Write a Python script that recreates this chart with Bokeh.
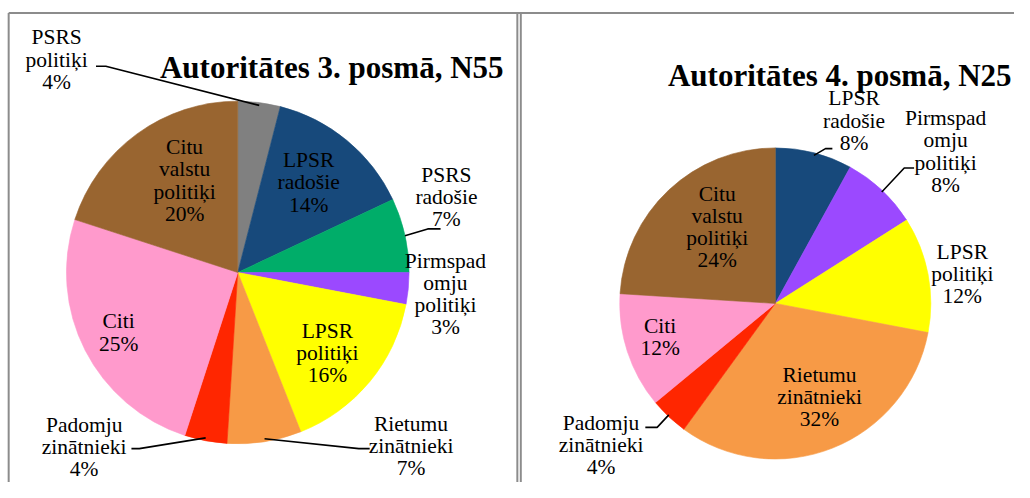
import math
from bokeh.plotting import figure
from bokeh.models import Range1d, ColumnDataSource
from bokeh.core.properties import value
from bokeh.embed import file_html
from bokeh.resources import INLINE

# ---------------- data ----------------
left_title = "Autoritātes 3. posmā, N55"
left_categories = ["PSRS\npolitiķi", "LPSR\nradošie", "PSRS\nradošie",
                   "Pirmspad\nomju\npolitiķi", "LPSR\npolitiķi",
                   "Rietumu\nzinātnieki", "Padomju\nzinātnieki", "Citi",
                   "Citu\nvalstu\npolitiķi"]
left_values = [4, 14, 7, 3, 16, 7, 4, 25, 20]

right_title = "Autoritātes 4. posmā, N25"
right_categories = ["LPSR\nradošie", "Pirmspad\nomju\npolitiķi", "LPSR\npolitiķi",
                    "Rietumu\nzinātnieki", "Padomju\nzinātnieki", "Citi",
                    "Citu\nvalstu\npolitiķi"]
right_values = [8, 8, 12, 32, 4, 12, 24]

# ---------------- styles ----------------
COLOR = {
    "PSRS\npolitiķi": "#808080",
    "LPSR\nradošie": "#17497B",
    "PSRS\nradošie": "#00AD69",
    "Pirmspad\nomju\npolitiķi": "#9B49FF",
    "LPSR\npolitiķi": "#FFFF00",
    "Rietumu\nzinātnieki": "#F79A46",
    "Padomju\nzinātnieki": "#FF2600",
    "Citi": "#FF9ACC",
    "Citu\nvalstu\npolitiķi": "#996530",
}
FONT = value("Liberation Serif")
W, H = 1014, 482          # figure size in screen pixels
REF_W, REF_H = 1030, 498  # layout grid (reference pixels)


def Y(ref_y):
    return REF_H - ref_y


p = figure(width=W, height=H, x_range=Range1d(0, REF_W), y_range=Range1d(0, REF_H),
           output_backend="svg", toolbar_location=None, x_axis_type=None,
           y_axis_type=None, min_border=0, outline_line_color=None)
p.background_fill_color = "white"

# panel borders
border = "#8C8C8C"
p.multi_line(xs=[[8.3, 1030], [8.3, 8.3], [525, 525], [528.5, 528.5]],
             ys=[[Y(13), Y(13)], [Y(13), Y(498)], [Y(13), Y(498)], [Y(13), Y(498)]],
             line_color=border, line_width=2)


def draw_pie(cx, cy, r, cats, vals, label_pos, leaders):
    total = float(sum(vals))
    starts, ends, mids = [], [], []
    cum = 0.0
    for v in vals:
        a0 = cum / total
        cum += v
        a1 = cum / total
        starts.append(math.pi / 2 - 2 * math.pi * a0)
        ends.append(math.pi / 2 - 2 * math.pi * a1)
        mids.append(math.pi * (a0 + a1))
    cols = [COLOR[c] for c in cats]
    src = ColumnDataSource(dict(start=starts, end=ends, color=cols))
    p.wedge(x=cx, y=Y(cy), radius=r, start_angle="start", end_angle="end",
            direction="clock", fill_color="color", line_color="color",
            line_width=0.6, source=src)
    # leader lines
    xs, ys = [], []
    for i, (xa, xb, ly) in leaders.items():
        ex = cx + r * math.sin(mids[i])
        ey = cy - r * math.cos(mids[i])
        xs.append([xa, xb, ex])
        ys.append([Y(ly), Y(ly), Y(ey)])
    p.multi_line(xs=xs, ys=ys, line_color="black", line_width=1.6)
    # labels
    texts = [f"{c}\n{v}%" for c, v in zip(cats, vals)]
    p.text(x=[q[0] for q in label_pos], y=[Y(q[1]) for q in label_pos], text=texts,
           text_align="center", text_baseline="middle", text_font=FONT,
           text_font_size="21.5px", text_line_height=0.92, text_color="black")


draw_pie(241, 281, 174, left_categories, left_values,
         [(57, 61), (313, 188), (453, 203), (452, 303), (332, 364),
          (417, 460), (85, 461), (120, 343), (187, 186)],
         {0: (97, 107, 68), 2: (447, 434, 236), 5: (375, 364, 463), 6: (133, 141, 463)})

draw_pie(787, 313, 158, right_categories, right_values,
         [(867, 124), (960, 156), (977, 283), (832, 410), (610, 459),
          (670, 348), (728, 234)],
         {0: (845, 838, 153), 1: (928, 918, 173), 4: (655, 667, 441)})

p.text(x=[162], y=[Y(69)], text=[left_title], text_align="left",
       text_baseline="alphabetic", text_font=FONT, text_font_style="bold",
       text_font_size="31px", text_color="black")
p.text(x=[678], y=[Y(77)], text=[right_title], text_align="left",
       text_baseline="alphabetic", text_font=FONT, text_font_style="bold",
       text_font_size="31px", text_color="black")

open("out.html", "w").write(file_html(p, INLINE))
